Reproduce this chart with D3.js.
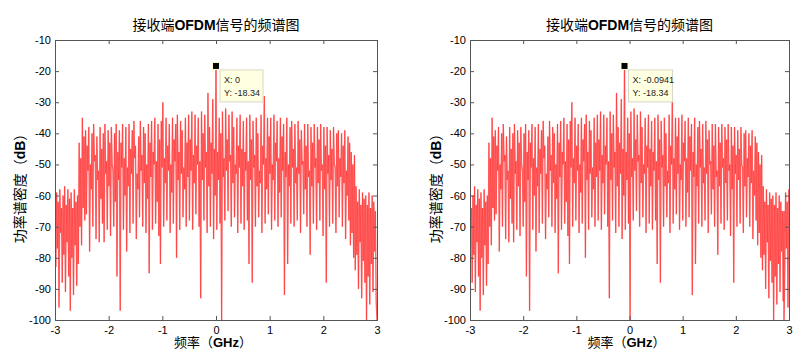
<!DOCTYPE html>
<html><head><meta charset="utf-8">
<script src="https://cdn.jsdelivr.net/npm/d3@7"></script>
<style>body{margin:0;background:#fff} svg{display:block}</style>
</head><body>
<svg id="c" width="812" height="352"></svg>
<script>
// ---- data ----
const freqDomain = [-3, 3];          // GHz
const dbDomain = [-100, -10];        // dB
const xTicks = [-3, -2, -1, 0, 1, 2, 3];
const yTicks = [-10, -20, -30, -40, -50, -60, -70, -80, -90, -100];
// received spectrum (dB), uniform grid from -3 to 3 GHz
const spectrumDb = [
-65,-83,-59,-77,-62,-96,-58,-72,-64,-88,-60,-79,-57,-91,-63,-75,-58,-86,-61,-97,
-59,-80,-64,-92,-58,-76,-62,-89,-60,
-82,-43,-70,-48,-76,-35,-64,-41,-68,
-39,-66,-44,-52,-38,-78,-50,-58,-40,-70,-37,-49,-47,-74,-41,-55,-52,-75,-38,-61,
-45,-69,-40,-75,-37,-53,-49,-71,-39,-57,-43,-73,-38,-50,-52,-70,-40,-62,-37,-86,
-46,-55,-39,-97,-43,-51,-37,-71,-48,-60,-38,-78,-51,-57,-37,-72,-45,-53,-39,-69,
-36,-48,-44,-74,-53,-58,-41,-67,-36,-52,-47,-70,-38,-56,-40,-72,-50,-61,-37,-85,
-43,-54,-36,-71,-46,-50,-35,-69,-49,-62,-37,-73,-42,-82,-36,-51,-30,-70,-48,-56,
-35,-68,-44,-52,-37,-72,-50,-59,-35,-69,-42,-49,-37,-80,-34,-55,-46,-71,-36,-53,
-39,-67,-51,-58,-35,-70,-43,-54,-34,
-68,-42,-52,-33,-71,-47,-56,-34,-66,-44,-50,-35,-70,-49,-93,-33,-55,-40,-68,-34,
-51,-46,-72,-27,-57,-38,-70,-43,-53,-29,-74,-45,-60,-18.34,-71,-46,-55,-35,-69,-40,
-100,-33,-54,-48,-68,-32,-52,-42,-65,-34,-49,-47,-70,-33,-56,-38,-67,-50,-53,-35,
-72,-44,-51,-34,-69,-45,-57,
-36,-71,-46,-52,-35,-68,-49,-82,-34,-55,-42,-88,-36,-51,-47,-70,-35,-57,-40,-67,
-52,-56,-34,-72,-44,-50,-28,-69,-48,-58,-35,-66,-41,-53,-35,-71,-50,-55,-34,-68,
-43,-49,-36,-70,-48,-59,-35,-67,-41,-52,-37,-92,-46,-54,-35,-82,-50,-57,-38,-69,
-36,-51,-45,-70,-37,-56,-51,-68,-36,-53,-42,-72,-39,-50,-49,-66,-37,-58,-44,-70,
-37,-54,-52,-79,-38,-57,-43,-69,-37,-51,-48,-71,-38,-56,-42,-68,-37,-52,-50,-73,
-38,-58,-44,-88,-38,-53,-47,-70,-39,-55,-45,-69,-38,-50,-51,-72,-40,-57,-39,-67,
-48,-54,-40,-70,-44,-56,-39,-74,-52,-60,-41,-68,-43,
-76,-46,-72,-50,-80,-47,
-84,-57,-79,-62,-90,-58,-75,-63,-93,-59,-81,-61,-88,-60,-100,-63,-86,-59,-95,-64,
-82,-60,-91,-62,-78,-65,-94,-100
];
const panelShift = [0, -0.0941];     // frequency offset of each panel (GHz)
const peakDb = -18.34;
const tipLabels = [["X: 0", "Y: -18.34"], ["X: -0.0941", "Y: -18.34"]];

// ---- layout ----
const panels = [
  {l: 55, r: 377, t: 40, b: 320, ylabX: 20},
  {l: 470, r: 789, t: 40, b: 320, ylabX: 436}
];
const svg = d3.select("#c");
const cjk = "'Noto Sans CJK SC', sans-serif";
const lat = "'Liberation Sans', Arial, sans-serif";
const axisColor = "#555";
const n = spectrumDb.length;
const step = (freqDomain[1] - freqDomain[0]) / (n - 1);

panels.forEach((p, k) => {
  const x = d3.scaleLinear().domain(freqDomain).range([p.l, p.r]);
  const y = d3.scaleLinear().domain(dbDomain).range([p.b, p.t]);
  const g = svg.append("g");
  const cid = "clip" + k;
  svg.append("clipPath").attr("id", cid).append("rect")
    .attr("x", p.l).attr("y", p.t).attr("width", p.r - p.l).attr("height", p.b - p.t);

  // data points (circularly shifted for panel 2)
  let pts = spectrumDb.map((v, i) => {
    let f = freqDomain[0] + i * step + panelShift[k];
    if (f < freqDomain[0] - 1e-9) f += 6;
    return [f, v];
  });
  pts.sort((a, b) => a[0] - b[0]);
  const line = d3.line().x(d => x(d[0])).y(d => y(d[1]));

  // soft halo + crisp core, both from the same series
  g.append("path").datum(pts).attr("clip-path", `url(#${cid})`)
    .attr("fill", "none").attr("stroke", "#ff8080").attr("stroke-width", 1.4)
    .attr("stroke-linejoin", "bevel").attr("d", line);
  g.append("path").datum(pts).attr("clip-path", `url(#${cid})`)
    .attr("fill", "none").attr("stroke", "#ff0000").attr("stroke-width", 0.45)
    .attr("stroke-opacity", 0.65).attr("stroke-linejoin", "bevel").attr("d", line);

  // axes (MATLAB box style, ticks inside)
  const tl = 4;
  const axB = g.append("g").attr("transform", `translate(0,${p.b})`)
    .call(d3.axisBottom(x).tickValues(xTicks).tickSize(-tl).tickPadding(6).tickFormat(d3.format("d")));
  const axT = g.append("g").attr("transform", `translate(0,${p.t})`)
    .call(d3.axisTop(x).tickValues(xTicks).tickSize(-tl).tickFormat(""));
  const axL = g.append("g").attr("transform", `translate(${p.l},0)`)
    .call(d3.axisLeft(y).tickValues(yTicks).tickSize(-tl).tickPadding(4).tickFormat(d3.format("d")));
  const axR = g.append("g").attr("transform", `translate(${p.r},0)`)
    .call(d3.axisRight(y).tickValues(yTicks).tickSize(-tl).tickFormat(""));
  [axB, axT, axL, axR].forEach(a => {
    a.select(".domain").attr("stroke", axisColor);
    a.selectAll(".tick line").attr("stroke", axisColor);
    a.selectAll(".tick text").attr("fill", "#000").style("font-family", lat).style("font-size", "11px");
  });
  axB.selectAll(".tick text").text(d => d < 0 ? "-" + Math.abs(d) : d);
  axL.selectAll(".tick text").text(d => "-" + Math.abs(d));

  const cx = (p.l + p.r) / 2;
  // title
  const tt = g.append("text").attr("x", cx).attr("y", 30).attr("text-anchor", "middle")
    .style("font-size", "14px").style("font-family", cjk);
  tt.append("tspan").text("接收端");
  tt.append("tspan").style("font-family", lat).style("font-weight", "bold").text("OFDM");
  tt.append("tspan").text("信号的频谱图");

  // x label
  const xl = g.append("text").attr("x", cx - 3).attr("y", 347).attr("text-anchor", "middle")
    .style("font-size", "13px").style("font-family", cjk);
  xl.append("tspan").text("频率（");
  xl.append("tspan").style("font-family", lat).style("font-weight", "bold").text("GHz");
  xl.append("tspan").text("）");

  // y label
  const yl = g.append("text").attr("transform", `translate(${p.ylabX + 5},185) rotate(-90)`)
    .attr("text-anchor", "middle").style("font-size", "14px").style("font-family", cjk);
  yl.append("tspan").text("功率谱密度（");
  yl.append("tspan").style("font-family", lat).style("font-weight", "bold").text("dB");
  yl.append("tspan").text("）");

  // data tip
  const px = x(panelShift[k]), py = y(peakDb);
  g.append("rect").attr("x", px - 3.5).attr("y", py - 3.5).attr("width", 7).attr("height", 7)
    .attr("fill", "#000").attr("stroke", "#ffffcc").attr("stroke-width", 1);
  const bw = k === 0 ? 43 : 44;
  const bx = px + 4, by = py + 4;
  g.append("rect").attr("x", bx).attr("y", by).attr("width", bw).attr("height", 32)
    .attr("fill", "#ffffe1").attr("stroke", "#d8d8c8").attr("stroke-width", 1);
  tipLabels[k].forEach((s, j) => {
    g.append("text").attr("x", bx + 4).attr("y", by + 13 + j * 13)
      .style("font-family", lat).style("font-size", "9px").attr("fill", "#222").text(s);
  });
});
</script>
</body></html>
